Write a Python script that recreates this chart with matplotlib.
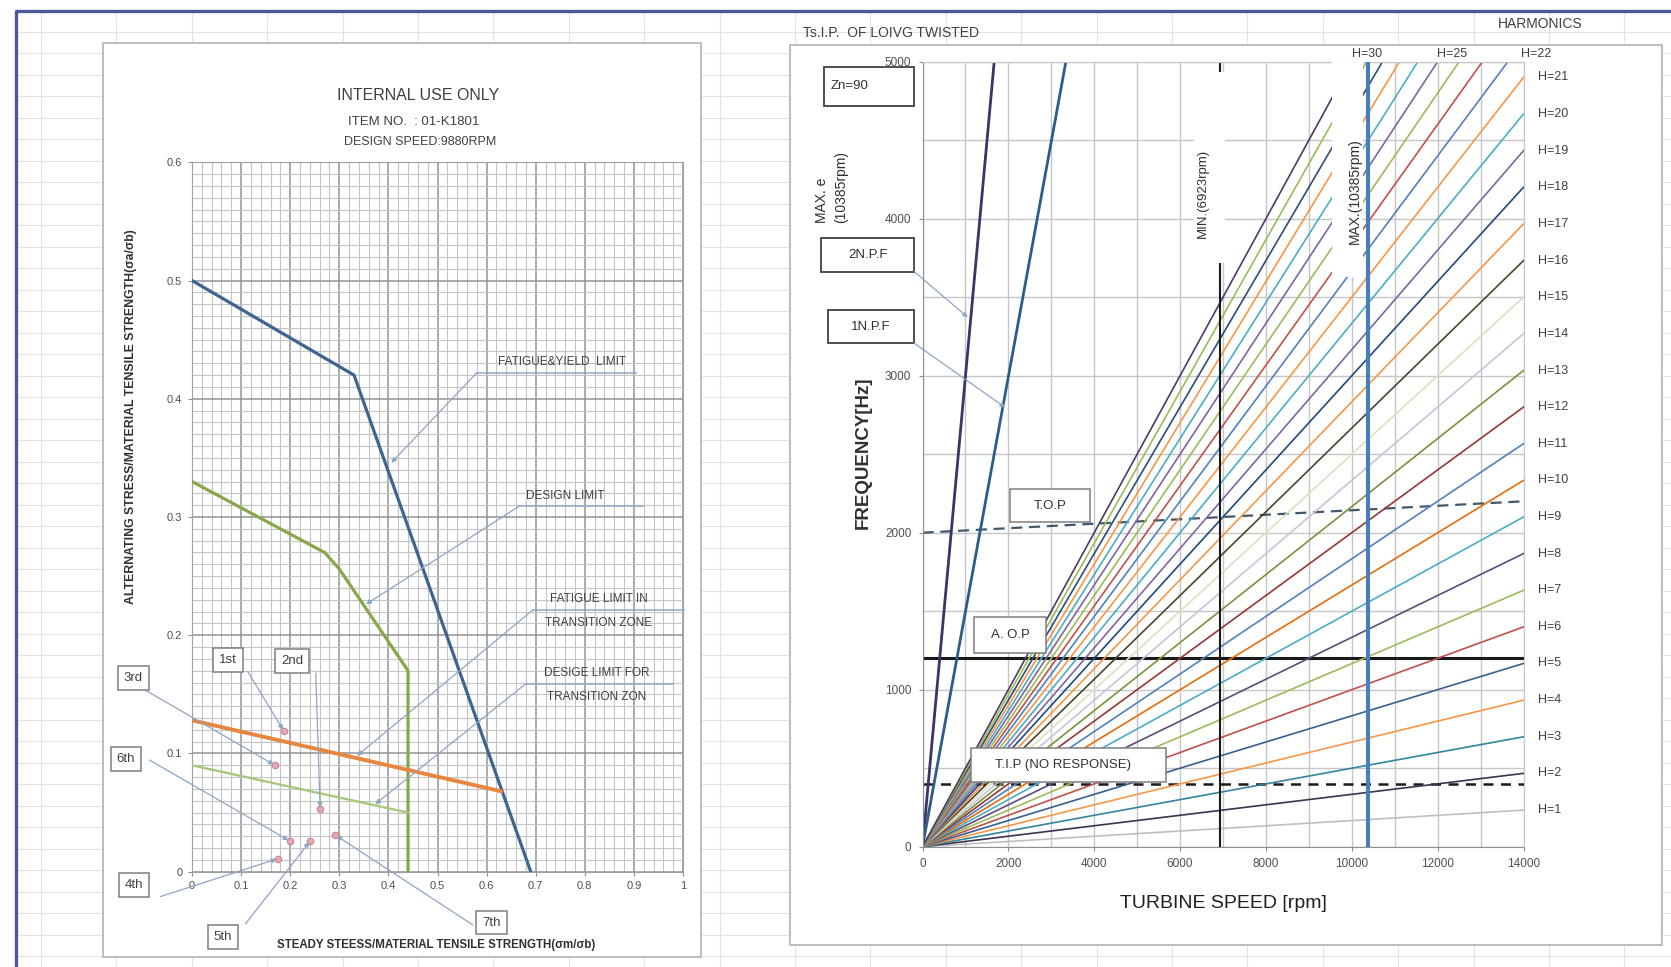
import numpy as np
import matplotlib.pyplot as plt
from matplotlib.patches import Rectangle

plt.rcParams['font.family'] = ['Liberation Sans Narrow', 'Liberation Sans', 'DejaVu Sans']

W, H = 1671, 967

# ---------------- left chart data (stress ratios) ----------------
fy_x = [0.0, 0.33, 0.69]          # fatigue & yield limit
fy_y = [0.50, 0.42, 0.0]
dl_x = [0.0, 0.27, 0.30, 0.44, 0.44]   # design limit
dl_y = [0.33, 0.27, 0.256, 0.17, 0.0]
ftz_x = [0.0, 0.63]               # fatigue limit in transition zone
ftz_y = [0.128, 0.068]
dtz_x = [0.0, 0.44]               # design limit for transition zone
dtz_y = [0.09, 0.05]

mode_names = ['1st', '2nd', '3rd', '4th', '5th', '6th', '7th']
mode_x = [0.187, 0.261, 0.169, 0.175, 0.241, 0.199, 0.292]
mode_y = [0.119, 0.053, 0.090, 0.011, 0.026, 0.026, 0.031]

# ---------------- right chart data (Campbell diagram) ----------------
nf_names = ['2N.P.F', '1N.P.F']
nf_rpm = [[0, 1670], [0, 3340]]
nf_hz = [[0, 5000], [0, 5000]]

harm_order = list(range(1, 31))
# end point of each harmonic line (either 14000 rpm or the 5000 Hz top)
harm_end_rpm = [14000] * 21 + [13636, 13043, 12500, 12000, 11538, 11111, 10714, 10345, 10000]
harm_end_hz = [233, 467, 700, 933, 1167, 1400, 1633, 1867, 2100, 2333, 2567,
               2800, 3033, 3267, 3500, 3733, 3967, 4200, 4433, 4667, 4900] + [5000] * 9
top_labels = [30, 25, 22]
top_label_rpm = [10366, 12335, 14291]

speed_min, speed_max = 6923, 10385
aop_hz = 1200
tip_hz = 400
top_rpm = [0, 14000]
top_hz = [2000, 2200]

harm_colors = ['#BFBFBF', '#403152', '#31859C', '#F79646', '#376092', '#C0504D',
               '#9BBB59', '#604A7B', '#4BACC6', '#E46C0A', '#4F81BD', '#953735',
               '#77933C', '#CCC1DA', '#D7E4BD', '#4A452A', '#F79646', '#1F497D',
               '#8064A2', '#4BACC6', '#F79646', '#4F81BD', '#C0504D', '#9BBB59',
               '#8064A2', '#4BACC6', '#F79646', '#2C4D75', '#9BBB59', '#4D3B62']

fig = plt.figure(figsize=(W / 100, H / 100), dpi=100)
fig.patch.set_facecolor('white')

# background sheet in pixel coordinates
bg = fig.add_axes([0, 0, 1, 1])
bg.set_xlim(0, W)
bg.set_ylim(H, 0)
bg.axis('off')
for yy in np.arange(31.7, H, 21.5):
    bg.plot([16, W], [yy, yy], color='#E3E3E3', lw=0.8, zorder=0)
for xx in np.arange(41, W, 75.4):
    bg.plot([xx, xx], [11, H], color='#E3E3E3', lw=0.8, zorder=0)
bg.plot([16, 16, W], [H, 10.7, 10.7], color='#4B5A96', lw=2.4, zorder=1)
bg.add_patch(Rectangle((103.4, 42.6), 597.8, 914.4, fc='white', ec='#BDBDBD', lw=1.4, zorder=1))
bg.add_patch(Rectangle((790.4, 45), 871.3, 900, fc='white', ec='#BDBDBD', lw=1.4, zorder=1))

# ================= left chart =================
axL = fig.add_axes([192 / W, 1 - 871.7 / H, 491 / W, 709.4 / H])
axL.set_xlim(0, 1)
axL.set_ylim(0, 0.6)
axL.set_xticks(np.arange(0, 1.01, 0.1))
axL.set_xticklabels(['0', '0.1', '0.2', '0.3', '0.4', '0.5', '0.6', '0.7', '0.8', '0.9', '1'])
axL.set_yticks(np.arange(0, 0.61, 0.1))
axL.set_yticklabels(['0', '0.1', '0.2', '0.3', '0.4', '0.5', '0.6'])
axL.set_xticks(np.arange(0, 1.001, 0.02), minor=True)
axL.set_yticks(np.arange(0, 0.601, 0.01), minor=True)
axL.grid(which='minor', color='#C4C4C4', lw=0.8)
axL.grid(which='major', color='#939393', lw=1.1)
axL.set_axisbelow(True)
axL.tick_params(which='minor', length=0)
axL.tick_params(which='major', length=3, color='#8F8F8F', labelsize=8, labelcolor='#505050', pad=4)
for s in axL.spines.values():
    s.set_color('#A0A0A0')

axL.plot(fy_x, fy_y, color='#3F6491', lw=2.3, zorder=3)
axL.plot(dl_x, dl_y, color='#86A84A', lw=2.3, zorder=3)
axL.plot(ftz_x, ftz_y, color='#E8853F', lw=2.8, zorder=3)
axL.plot(dtz_x, dtz_y, color='#A9C77F', lw=1.7, zorder=3)
axL.scatter(mode_x, mode_y, s=22, color='#E3A9B2', edgecolor='#C98893', lw=0.8, zorder=5)

arrow_kw = dict(arrowstyle='-|>', color='#8DA5C6', lw=0.9, mutation_scale=7, shrinkA=0, shrinkB=1)

# mode labels: box centre and leader start
mode_box = {'1st': (0.073, 0.179), '2nd': (0.204, 0.178), '3rd': (-0.120, 0.164),
            '4th': (-0.118, -0.011), '5th': (0.063, -0.055), '6th': (-0.135, 0.0955),
            '7th': (0.610, -0.043)}
mode_lead = {'1st': (0.114, 0.169), '2nd': (0.252, 0.168), '3rd': (-0.101, 0.155),
             '4th': (-0.064, -0.021), '5th': (0.109, -0.044), '6th': (-0.087, 0.0945),
             '7th': (0.572, -0.045)}
for name, mx, my in zip(mode_names, mode_x, mode_y):
    bx, by = mode_box[name]
    axL.text(bx, by, name, ha='center', va='center', fontsize=9.5, color='#404040',
             bbox=dict(boxstyle='square,pad=0.45', fc='white', ec='#7F7F7F', lw=1.1),
             clip_on=False, zorder=6)
    axL.annotate('', xy=(mx, my), xytext=mode_lead[name], arrowprops=arrow_kw,
                 annotation_clip=False, zorder=4)

# callouts with underline and leader
callouts = [
    (['FATIGUE&YIELD  LIMIT'], 0.58, 0.904, 0.422, 0.754, (0.404, 0.345)),
    (['DESIGN LIMIT'], 0.666, 0.918, 0.309, 0.76, (0.352, 0.2256)),
    (['FATIGUE LIMIT IN', 'TRANSITION ZONE'], 0.694, 1.002, 0.2213, 0.829, (0.334, 0.0973)),
    (['DESIGE LIMIT FOR', 'TRANSITION ZON'], 0.680, 0.979, 0.159, 0.825, (0.371, 0.0564)),
]
for lines, x0, x1, yl, xt, target in callouts:
    axL.plot([x0, x1], [yl, yl], color='#8FA8C8', lw=1.1, clip_on=False, zorder=4)
    axL.text(xt, yl + 0.004, lines[0], ha='center', va='bottom', fontsize=8.5,
             color='#404040', clip_on=False, zorder=6)
    if len(lines) > 1:
        axL.text(xt, yl - 0.006, lines[1], ha='center', va='top', fontsize=8.5,
                 color='#404040', clip_on=False, zorder=6)
    axL.annotate('', xy=target, xytext=(x0, yl), arrowprops=arrow_kw,
                 annotation_clip=False, zorder=4)

bg.text(417.8, 95, 'INTERNAL USE ONLY', ha='center', va='center', fontsize=11.5, color='#404040')
bg.text(413.2, 121.7, 'ITEM NO.  : 01-K1801', ha='center', va='center', fontsize=9.5, color='#404040')
bg.text(420, 141.7, 'DESIGN SPEED:9880RPM', ha='center', va='center', fontsize=9, color='#404040')
bg.text(131, 417, 'ALTERNATING STRESS/MATERIAL TENSILE STRENGTH(σa/σb)', rotation=90,
        ha='center', va='center', fontsize=8.8, fontweight='bold', color='#303030',
        family=['Liberation Sans', 'DejaVu Sans'])
bg.text(436, 945, 'STEADY STEESS/MATERIAL TENSILE STRENGTH(σm/σb)', ha='center', va='center',
        fontsize=8.3, fontweight='bold', color='#303030', family=['Liberation Sans', 'DejaVu Sans'])

# ================= right chart =================
axR = fig.add_axes([922.5 / W, 1 - 846.7 / H, 601 / W, 785 / H])
axR.set_xlim(0, 14000)
axR.set_ylim(0, 5000)
axR.set_xticks(np.arange(0, 14001, 2000))
axR.set_yticks(np.arange(0, 5001, 1000))
axR.set_xticks(np.arange(0, 14001, 1000), minor=True)
axR.set_yticks(np.arange(0, 5001, 500), minor=True)
axR.grid(which='both', color='#C6C6C6', lw=1.0)
axR.set_axisbelow(True)
axR.tick_params(which='minor', length=0)
axR.tick_params(which='major', length=3, color='#8F8F8F', labelsize=8.5, labelcolor='#505050', pad=5)
for s in axR.spines.values():
    s.set_color('#C6C6C6')
axR.spines['left'].set_color('#8F8F8F')
axR.spines['bottom'].set_color('#8F8F8F')

axR.axhline(aop_hz, color='#1A1A1A', lw=2.2, zorder=1.5)
axR.axhline(tip_hz, color='#1A1A1A', lw=1.8, ls=(0, (4, 3)), zorder=1.5)
axR.plot(top_rpm, top_hz, color='#40596B', lw=1.6, ls=(0, (5, 3)), zorder=1.5)

for h, er, eh, c in zip(harm_order, harm_end_rpm, harm_end_hz, harm_colors):
    axR.plot([0, er], [0, eh], color=c, lw=1.2, zorder=2)

axR.plot(nf_rpm[0], nf_hz[0], color='#3D3366', lw=2.0, zorder=2.2)
axR.plot(nf_rpm[1], nf_hz[1], color='#2E5C8A', lw=2.0, zorder=2.2)

axR.axvline(speed_min, color='#1A1A1A', lw=1.5, zorder=2.5)
axR.add_patch(Rectangle((6325, 3716), 720, 1220, fc='white', ec='none', zorder=3))
axR.add_patch(Rectangle((9532, 3630), 720, 1370, fc='white', ec='none', zorder=3))
axR.axvline(speed_max, color='#4A7EBB', lw=3.0, zorder=4)
axR.text(6532, 4163, 'MIN.(6923rpm)', rotation=90, ha='center', va='center', fontsize=9.5,
         color='#303030', zorder=5)
axR.text(10075, 4173, 'MAX.(10385rpm)', rotation=90, ha='center', va='center', fontsize=10,
         color='#303030', zorder=5)

for h, er, eh in zip(harm_order, harm_end_rpm, harm_end_hz):
    if er == 14000:
        axR.text(14330, eh, 'H=%d' % h, ha='left', va='center', fontsize=9,
                 color='#404040', clip_on=False)
for h, r in zip(top_labels, top_label_rpm):
    axR.text(r, 5050, 'H=%d' % h, ha='center', va='center', fontsize=9,
             color='#404040', clip_on=False)

# boxed labels inside the plot
for txt, x0, x1, y0, y1 in [('T.O.P', 2038, 3911, 2069, 2276),
                            ('A. O.P', 1207, 2870, 1232, 1465),
                            ('T.I.P (NO RESPONSE)', 1139, 5682, 414, 627)]:
    axR.add_patch(Rectangle((x0, y0), x1 - x0, y1 - y0, fc='white', ec='#7F7F7F',
                            lw=1.1, zorder=6, clip_on=False))
    axR.text(x0 + 0.12 * (x1 - x0) if len(txt) > 8 else (x0 + x1) / 2, (y0 + y1) / 2, txt,
             ha='left' if len(txt) > 8 else 'center', va='center', fontsize=9.5,
             color='#303030', zorder=7)

bg.add_patch(Rectangle((824.3, 66.7), 90, 39.3, fc='white', ec='#404040', lw=1.3, zorder=2))
bg.text(831, 86, 'Zn=90', ha='left', va='center', fontsize=9.5, color='#303030', zorder=3)
bg.text(831.4, 223.3, 'MAX. e\n(10385rpm)', rotation=90, ha='center', va='bottom',
        multialignment='left', fontsize=10, color='#303030', linespacing=1.5)
for name, (bx, by, bw, bh), tip in zip(nf_names,
                                        [(821.4, 238.3, 92.9, 33.4), (827.9, 310, 86.4, 33.3)],
                                        [(1081, 3366), (1954, 2792)]):
    bg.add_patch(Rectangle((bx, by), bw, bh, fc='white', ec='#404040', lw=1.3, zorder=2))
    bg.text(bx + bw / 2, by + bh / 2, name, ha='center', va='center', fontsize=9.5,
            color='#303030', zorder=3)
    axR.annotate('', xy=tip, xycoords='data', xytext=(bx + bw, by + bh), textcoords=bg.transData,
                 arrowprops=arrow_kw, annotation_clip=False, zorder=5)

bg.text(803, 33.3, 'Ts.I.P.  OF LOIVG TWISTED', ha='left', va='center', fontsize=10, color='#404040')
bg.text(1540, 24, 'HARMONICS', ha='center', va='center', fontsize=10, color='#404040')
bg.text(863.6, 453, 'FREQUENCY[Hz]', rotation=90, ha='center', va='center', fontsize=13.5,
        fontweight='bold', color='#303030', family=['Liberation Sans', 'DejaVu Sans'])
bg.text(1223, 903, 'TURBINE SPEED [rpm]', ha='center', va='center', fontsize=14, color='#202020',
        family=['Liberation Sans', 'DejaVu Sans'])

fig.savefig('out.png', dpi=100)
